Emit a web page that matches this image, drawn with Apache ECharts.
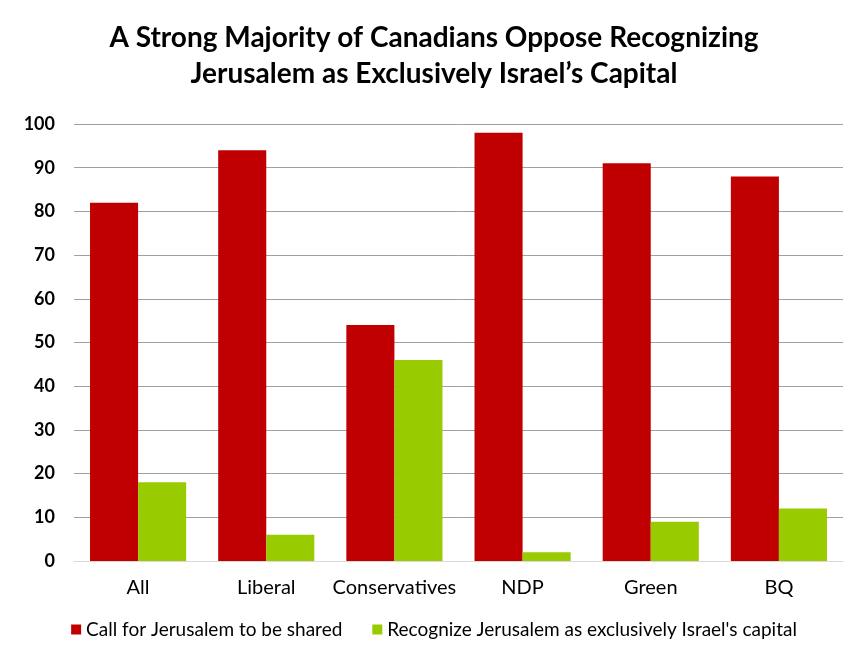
<!DOCTYPE html>
<html><head><meta charset="utf-8">
<script src="https://cdn.jsdelivr.net/npm/echarts@6/dist/echarts.min.js"></script>
<style>html,body{margin:0;padding:0;background:#fff}#c{width:868px;height:666px}</style>
</head><body><div id="c"></div>
<script>
const titleLines = ["A Strong Majority of Canadians Oppose Recognizing", "Jerusalem as Exclusively Israel\u2019s Capital"];
const categories = ["All", "Liberal", "Conservatives", "NDP", "Green", "BQ"];
const seriesNames = ["Call for Jerusalem to be shared", "Recognize Jerusalem as exclusively Israel's capital"];
const sharedValues = [82, 94, 54, 98, 91, 88];
const israelValues = [18, 6, 46, 2, 9, 12];
const yTicks = [0, 100, 10];

const FONT = "Lato";
const chart = echarts.init(document.getElementById('c'), null, {renderer: 'canvas'});
chart.setOption({
  animation: false,
  backgroundColor: '#fff',
  title: {
    text: titleLines.join('\n'),
    left: 'center', top: 15,
    textStyle: {fontFamily: FONT, fontWeight: 'bold', fontSize: 28, lineHeight: 36, color: '#000'}
  },
  legend: {
    bottom: 22, left: 'center', itemGap: 30,
    itemWidth: 10, itemHeight: 10, icon: 'rect',
    textStyle: {fontFamily: FONT, fontSize: 19, color: '#000'},
    data: seriesNames
  },
  grid: {left: 74, right: 25, top: 124, bottom: 105, containLabel: false},
  xAxis: {
    type: 'category', data: categories,
    axisTick: {show: false},
    axisLine: {lineStyle: {color: '#d9d9d9', width: 1}},
    axisLabel: {fontFamily: FONT, fontSize: 20, color: '#000', margin: 17, interval: 0}
  },
  yAxis: {
    type: 'value', min: yTicks[0], max: yTicks[1], interval: yTicks[2],
    axisLine: {show: false}, axisTick: {show: false},
    splitLine: {lineStyle: {color: '#a0a0a0', width: 1}},
    axisLabel: {fontFamily: FONT, fontSize: 18, fontWeight: 'bold', color: '#000', margin: 19}
  },
  series: [
    {name: seriesNames[0], type: 'bar', data: sharedValues, itemStyle: {color: '#C00000'}, barGap: '0%', barCategoryGap: '25%'},
    {name: seriesNames[1], type: 'bar', data: israelValues, itemStyle: {color: '#99CC00'}, barGap: '0%', barCategoryGap: '25%'}
  ]
});
</script></body></html>
